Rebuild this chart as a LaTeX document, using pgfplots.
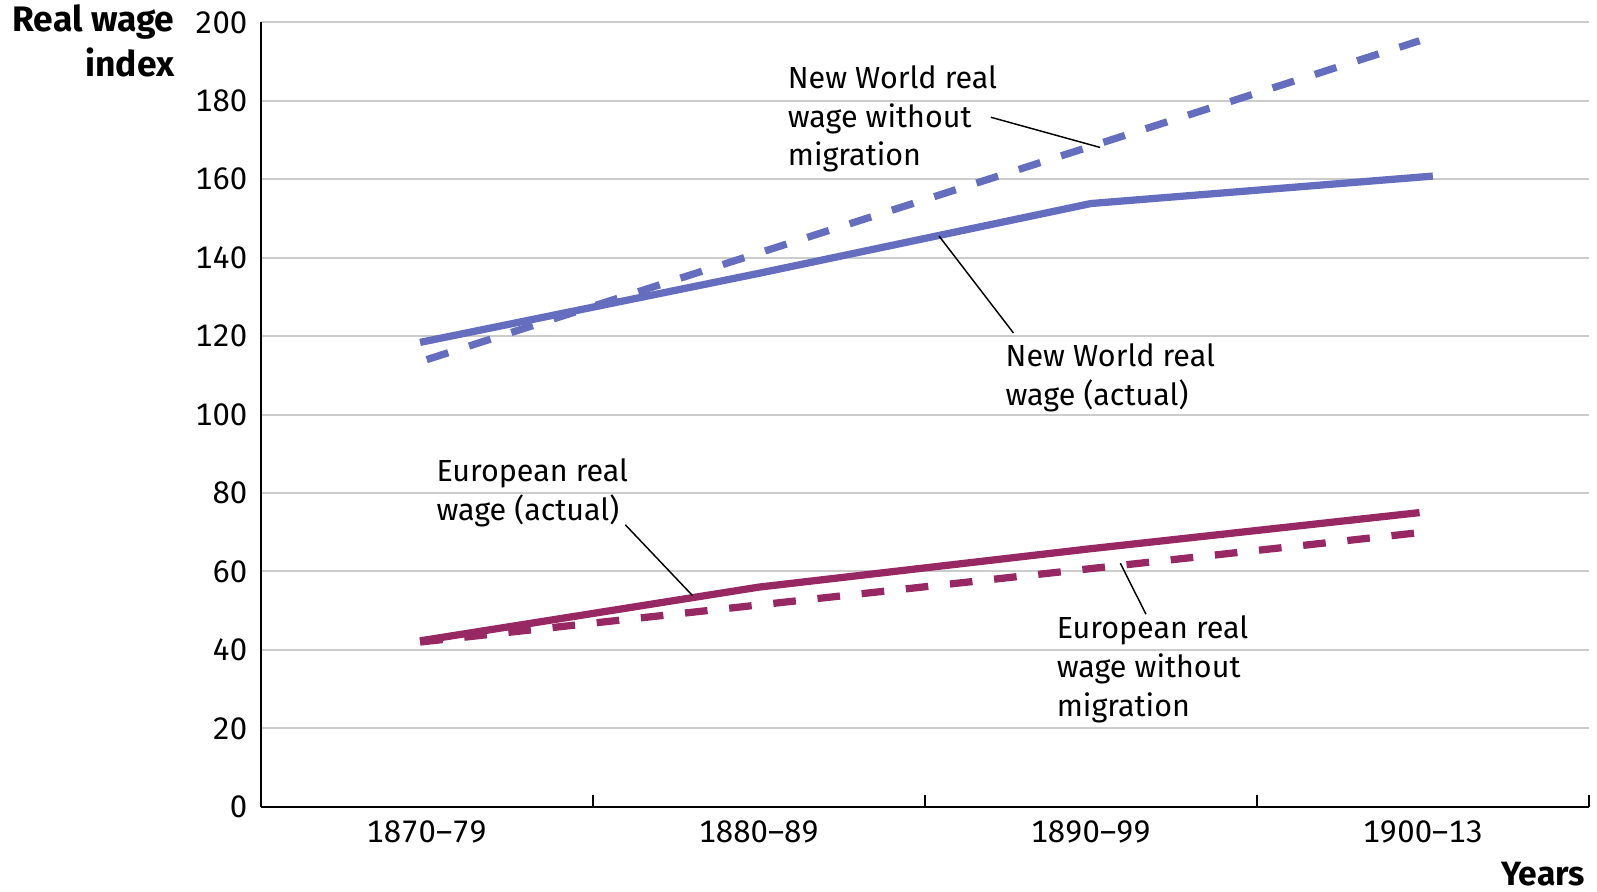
\documentclass[border=0pt]{standalone}
\usepackage{pgfplots}
\pgfplotsset{compat=1.18}
\usepackage{fontspec}
\setmainfont{Fira Sans}[Numbers={Monospaced,Lining}]
\definecolor{nwblue}{RGB}{100,109,190}
\definecolor{eupurple}{RGB}{152,40,100}
\begin{document}
\fontsize{10.5}{13.3}\selectfont
\begin{tikzpicture}
\begin{axis}[
  scale only axis,
  width=457.5pt, height=270.2pt,
  xmin=0, xmax=4, ymin=0, ymax=200,
  axis x line=bottom, axis y line=left,
  axis line style={-, line width=0.6pt, black},
  xtick={0.5,1.5,2.5,3.5},
  xticklabels={1870–79,1880–89,1890–99,1900–13},
  extra x ticks={1,2,3,4},
  extra x tick labels={},
  extra x tick style={major tick length=4.2pt, tick align=inside, tick style={black, line width=0.6pt}},
  ytick={0,20,...,200},
  major tick length=0pt,
  ymajorgrids,
  grid style={gray!40, line width=0.7pt},
  yticklabel style={inner sep=0pt, xshift=-4.4pt},
  xticklabel style={inner sep=0pt, yshift=-4.7pt},
  /pgf/number format/assume math mode=true,
  tick label style={font=\fontsize{10.7}{12}\selectfont},
  clip=false,
]
\addplot[nwblue, line width=2.5pt] table {
x y
0.48 118.4
1.5 136
2.5 153.8
3.53 160.8
};
\addplot[nwblue, line width=2.5pt, dash pattern=on 7.8pt off 7.5pt] table {
x y
0.5 114
3.49 195.3
};
\addplot[eupurple, line width=2.5pt] table {
x y
0.48 42.3
1.5 56
2.5 65.8
3.49 75
};
\addplot[eupurple, line width=2.5pt, dash pattern=on 7.8pt off 7.5pt] table {
x y
0.48 42
3.49 69.9
};

\node[anchor=north west, align=left, inner sep=0pt, font=\fontsize{10.5}{13.3}\selectfont] at (axis cs:1.586,189.1) {New World real\\wage without\\migration};
\draw[line width=0.5pt] (axis cs:2.199,175.8) -- (axis cs:2.528,168.1);

\node[anchor=north west, align=left, inner sep=0pt, font=\fontsize{10.5}{13.3}\selectfont] at (axis cs:2.242,118.2) {New World real\\wage (actual)};
\draw[line width=0.5pt] (axis cs:2.267,120.8) -- (axis cs:2.043,145.5);

\node[anchor=north west, align=left, inner sep=0pt, font=\fontsize{10.5}{13.3}\selectfont] at (axis cs:0.528,88.8) {European real\\wage (actual)};
\draw[line width=0.5pt] (axis cs:1.098,71.9) -- (axis cs:1.301,53.8);

\node[anchor=north west, align=left, inner sep=0pt, font=\fontsize{10.5}{13.3}\selectfont] at (axis cs:2.396,48.8) {European real\\wage without\\migration};
\draw[line width=0.5pt] (axis cs:2.666,49.1) -- (axis cs:2.589,62.1);

\node[anchor=north east, align=right, inner sep=0pt, font=\bfseries\fontsize{12.2}{15.4}\selectfont] at (axis cs:-0.258,204.6) {Real wage\\index};
\node[anchor=east, inner sep=0pt, font=\bfseries\fontsize{11.6}{13}\selectfont] at (axis cs:3.99,-17.1) {Years};

\coordinate (ll) at (rel axis cs:0,0);
\coordinate (ur) at (rel axis cs:1,1);
\end{axis}
\pgfresetboundingbox
\path ([shift={(-89.8pt,-29.1pt)}]ll) rectangle ([shift={(2.8pt,7.7pt)}]ur);
\end{tikzpicture}
\end{document}
